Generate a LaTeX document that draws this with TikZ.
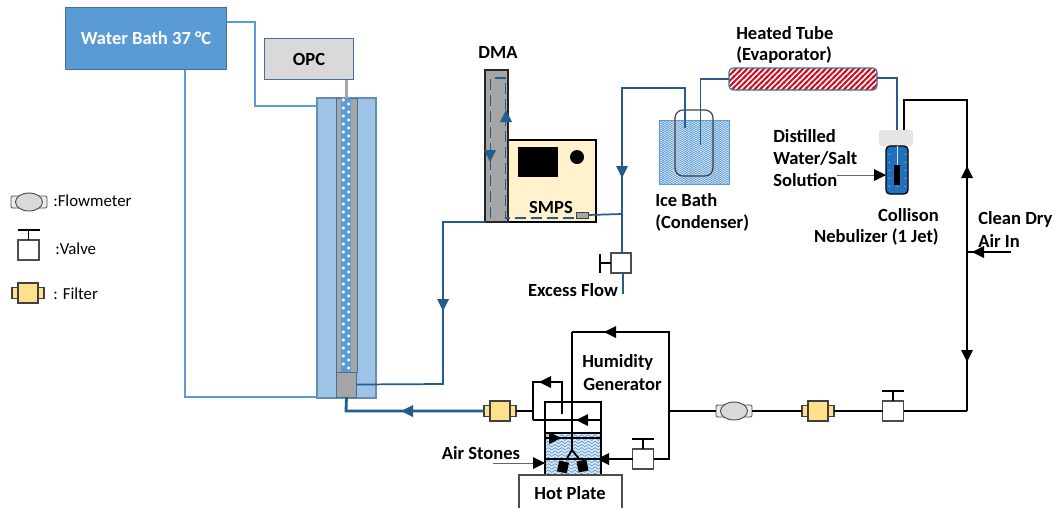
\documentclass[tikz,border=0pt]{standalone}
\usepackage{fontspec}
\setmainfont{Carlito}
\usetikzlibrary{patterns,shapes.geometric}
\pgfdeclarepatternformonly{bigwaves}{\pgfpoint{-1pt}{-1pt}}{\pgfpoint{6pt}{3.4pt}}{\pgfpoint{5pt}{2.4pt}}{
  \pgfsetlinewidth{0.55pt}
  \pgfpathmoveto{\pgfpoint{0pt}{1.2pt}}
  \pgfpathcurveto{\pgfpoint{1.2pt}{2.4pt}}{\pgfpoint{1.3pt}{2.4pt}}{\pgfpoint{2.5pt}{1.2pt}}
  \pgfpathcurveto{\pgfpoint{3.7pt}{0pt}}{\pgfpoint{3.8pt}{0pt}}{\pgfpoint{5pt}{1.2pt}}
  \pgfusepath{stroke}}
\pgfdeclarepatternformonly{finewaves}{\pgfpoint{-1pt}{-1pt}}{\pgfpoint{4pt}{3pt}}{\pgfpoint{2.6pt}{1.5pt}}{
  \pgfsetlinewidth{0.45pt}
  \pgfpathmoveto{\pgfpoint{0pt}{.75pt}}
  \pgfpathcurveto{\pgfpoint{.6pt}{1.6pt}}{\pgfpoint{.7pt}{1.6pt}}{\pgfpoint{1.3pt}{.75pt}}
  \pgfpathcurveto{\pgfpoint{1.9pt}{0pt}}{\pgfpoint{2pt}{0pt}}{\pgfpoint{2.6pt}{.75pt}}
  \pgfusepath{stroke}}
\pgfdeclarepatternformonly{heatlines}{\pgfpoint{-1pt}{-1pt}}{\pgfpoint{5.2pt}{5.2pt}}{\pgfpoint{4.2pt}{4.2pt}}{
  \pgfsetlinewidth{1.45pt}
  \pgfpathmoveto{\pgfpoint{-1pt}{-1pt}}
  \pgfpathlineto{\pgfpoint{5.2pt}{5.2pt}}
  \pgfusepath{stroke}}
\pgfdeclarepatternformonly{sprinkle}{\pgfpoint{-1pt}{-1pt}}{\pgfpoint{7pt}{7pt}}{\pgfpoint{6pt}{6pt}}{
  \pgfpathcircle{\pgfpoint{1pt}{1pt}}{.35pt}
  \pgfusepath{fill}}
\definecolor{bathblue}{HTML}{5B9BD5}
\definecolor{bathedge}{HTML}{41719C}
\definecolor{jacket}{HTML}{9DC3E6}
\definecolor{pipeblue}{HTML}{265B8C}
\definecolor{greyfill}{HTML}{A6A6A6}
\definecolor{filteryellow}{HTML}{FFE08C}
\definecolor{smpsfill}{HTML}{FFF2CC}
\definecolor{heatred}{HTML}{D01020}
\definecolor{nebblue}{HTML}{2070BC}
\newcommand\tipL[3][black]{\fill[#1] (#2-6,#3)--(#2+6,#3-6)--(#2+6,#3+6)--cycle;}
\newcommand\tipR[3][black]{\fill[#1] (#2+6,#3)--(#2-6,#3-6)--(#2-6,#3+6)--cycle;}
\newcommand\tipU[3][black]{\fill[#1] (#2,#3-6)--(#2-6,#3+6)--(#2+6,#3+6)--cycle;}
\newcommand\tipD[3][black]{\fill[#1] (#2,#3+6)--(#2-6,#3-6)--(#2+6,#3-6)--cycle;}
\tikzset{
  box/.style n args={2}{minimum width=#1*0.75pt,minimum height=#2*0.75pt,inner sep=0pt,outer sep=0pt},
  lbl/.style={font=\fontsize{13.9}{16}\selectfont\bfseries,inner sep=0pt,align=left},
  legend/.style={font=\fontsize{12.6}{15}\selectfont,inner sep=0pt},
  waterline/.style={draw=bathblue,line width=1.5pt,line join=miter},
  sample/.style={draw=pipeblue,line width=1.3pt},
  samplethick/.style={draw=pipeblue,line width=2.1pt},
  air/.style={draw=black,line width=1.4pt},
  thin arrow/.style={draw=black!60,line width=.7pt},
  filterpic/.pic={
    \node[box={32}{11},draw=black!75,fill=filteryellow,line width=.8pt] (nub) at (0,0) {};
    \node[box={20}{20},draw=black!75,fill=filteryellow,line width=1pt] (body) at (0,0) {};
    \coordinate (w) at (-16,0); \coordinate (e) at (16,0);},
  valvepic/.pic={
    \node[box={21}{20},draw=black!70,fill=white,line width=.9pt] (body) at (0,0) {};
    \draw[air,line width=1.1pt] (body.north) -- ++(0,-10) coordinate (stem);
    \draw[black,line width=1.6pt] (-11,-20) -- (11,-20);
    \coordinate (w) at (-10.5,0); \coordinate (e) at (10.5,0);},
  sidevalvepic/.pic={
    \node[box={20}{20},draw=black!70,fill=white,line width=.9pt] (body) at (0,0) {};
    \draw[air,line width=1.1pt] (body.west) -- ++(-11,0) coordinate (stem);
    \draw[black,line width=1.6pt] (-21,-9) -- (-21,10);},
  meterpic/.pic={
    \draw[black!70,fill=black!8,line width=.7pt,rounded corners=1pt] (-18,-6) rectangle (-9,6);
    \draw[black!70,fill=black!8,line width=.7pt,rounded corners=1pt] (9,-6) rectangle (18,6);
    \node[ellipse,box={27}{18},draw=black!70,fill=black!15,line width=.7pt] (body) at (0,0) {};
    \coordinate (w) at (-18,0); \coordinate (e) at (18,0);}
}
\begin{document}
\begin{tikzpicture}[x=0.75pt,y=-0.75pt]
\useasboundingbox (0,0) rectangle (1057,508);
% ---- water bath loop
\node[box={161}{62},draw=bathedge,fill=bathblue,line width=.8pt,text=white,lbl] (bath) at (146,38.5) {Water Bath 37 °C};
\node[box={89}{41},draw=bathedge,fill=black!15,line width=.8pt,lbl] (opc) at (309,59) {OPC};
\node[box={59}{300},draw=bathedge!80,fill=jacket,line width=.8pt] (jacket) at (346.5,248) {};
\coordinate (bathE) at (bath.east |- 0,22);
\coordinate (wtop) at (255,22);
\coordinate (wtop2) at (255,106);
\coordinate (jackW) at (jacket.west |- 0,106);
\draw[waterline] (bathE) -- (wtop) -- (wtop2) -- (jackW);
\coordinate (bathS) at (185,69.5);
\coordinate (wbot) at (185,397);
\coordinate (jackSW) at (jacket.west |- 0,397);
\draw[waterline] (bathS) -- (wbot) -- (jackSW);
% ---- flow tube
\node[box={21}{274},draw=bathedge,fill=greyfill,line width=.7pt] (tube) at (346.5,235) {};
\node[box={10}{274},fill=bathblue] (core) at (346,235) {};
\foreach \k in {0,...,67}{
  \fill[white] ({343.4+mod(\k,2)*5.2},{100+\k*4}) circle[radius=1.7];
}
\node[box={20}{25},draw=bathedge,fill=greyfill,line width=.7pt] (outbox) at (346.5,384.5) {};
\draw[draw=greyfill,line width=2pt] (tube.north |- opc.south) -- (tube.north);
% ---- DMA + SMPS
\node[box={88}{82},draw=black,fill=smpsfill,line width=.9pt] (smps) at (552,181) {};
\node[box={23}{152},draw=black!85,fill=greyfill,line width=.9pt] (dma) at (496.5,146) {};
\node[box={40}{30},fill=black] (screen) at (538,162) {};
\node[circle,fill=black,minimum size=14*0.75pt,inner sep=0pt] (knob) at (577,157) {};
\node[lbl] (smpslbl) at (551,207.5) {SMPS};
\node[lbl] (dmalbl) at (498,52) {DMA};
\node[box={12}{6},draw=black!75,fill=greyfill,line width=.6pt] (port) at (582,215) {};
\coordinate (dl1) at (490.5,218);
\coordinate (dl2) at (490.5,78);
\coordinate (dl3) at (505.5,78);
\coordinate (dl4) at (505.5,218);
\coordinate (dl5) at (port.west |- 0,218);
\draw[sample,dash pattern=on 8.5pt off 3.5pt] (dl1) -- (dl2) -- (dl3) -- (dl4) -- (dl5);
\tipD[pipeblue]{490}{156}
\tipU[pipeblue]{506}{116}
% ---- sample out of column to DMA
\coordinate (c1) at (443,384);
\coordinate (c2) at (443,222);
\draw[sample] (outbox.east) -- (c1) -- (c2) -- (dma.south west);
\tipD[pipeblue]{443}{305}
% ---- filter + outlet
\pic (f1) at (500,411) {filterpic};
\coordinate (o1) at (346,411);
\draw[samplethick] (outbox.south) -- (o1) -- (f1w);
\tipL[pipeblue]{407}{411}
% ---- condenser line
\node[box={70}{64},draw=bathblue,preaction={fill=jacket!30},pattern=finewaves,pattern color=bathblue,line width=.7pt] (ice) at (694,152) {};
\node[box={38}{66},draw=black!75,rounded corners=6pt,line width=.9pt] (flask) at (694,143) {};
\node[box={148}{22},draw=bathedge,rounded corners=3pt,pattern=heatlines,pattern color=heatred,line width=.8pt] (heater) at (803,79) {};
\coordinate (e1) at (700.5,79);
\coordinate (e2) at (700.5,145);
\draw[sample] (heater.west) -- (e1) -- (e2);
\coordinate (g1) at (685,128);
\coordinate (g2) at (685,88);
\coordinate (g3) at (622,88);
\coordinate (g4) at (622,214);
\pic (v3) at (621,263) {sidevalvepic};
\draw[sample] (g1) -- (g2) -- (g3) -- (g4) -- (v3body.north -| g4);
\draw[sample] (g4) -- (port.east);
\tipD[pipeblue]{622}{172}
\coordinate (xf) at (623,294);
\draw[sample] (v3body.south -| xf) -- (xf);
% ---- nebulizer
\node[box={34}{16},fill=black!10,rounded corners=2pt] (cap) at (896,138) {};
\node[box={22}{48},draw=black,fill=nebblue,rounded corners=3pt,line width=1pt] (neb) at (897,170) {};
\fill[pattern=sprinkle,pattern color=white] (887,148) rectangle (907,193);
\node[box={6}{20},fill=black] (jet) at (897,175) {};
\draw[white!80!nebblue,line width=.5pt] (neb.north) -- (jet.north);
\coordinate (n1) at (897,78);
\draw[sample] (heater.east |- n1) -- (n1) -- (cap.north -| n1);
\coordinate (a1) at (904,100);
\coordinate (a2) at (967,100);
\coordinate (a3) at (967,411);
\draw[air] (cap.north -| a1) -- (a1) -- (a2) -- (a3);
\tipU{967}{172}
\tipD{967}{356}
\coordinate (in0) at (1011,252);
\coordinate (in1) at (967,252);
\draw[air] (in0) -- (in1);
\tipL{978}{252}
\draw[thin arrow] (837,175) -- (neb.west |- 0,175);
\tipR{880}{175}
% ---- main air line
\pic (v2) at (893,411) {valvepic};
\pic (f2) at (818,411) {filterpic};
\pic (fm) at (734,411) {meterpic};
\pic (v1) at (643,459) {valvepic};
\coordinate (b1) at (669,411);
\coordinate (b2) at (669,459);
\coordinate (b3) at (669,332);
\coordinate (b4) at (572,332);
\coordinate (b5) at (572,450);
\draw[air] (a3) -- (v2e);
\draw[air] (v2w) -- (f2e);
\draw[air] (f2w) -- (fme);
\draw[air] (fmw) -- (b1);
\draw[air] (v1e) -- (b2) -- (b3) -- (b4);
\tipL{610}{332}
% ---- humidity generator
\node[box={56}{41},preaction={fill=jacket!35},pattern=bigwaves,pattern color=bathblue] (water) at (573,453.5) {};
\coordinate (hnw) at (545,402);
\coordinate (hne) at (601,402);
\coordinate (hsw) at (545,474);
\coordinate (hse) at (601,474);
\draw[black,line width=1.1pt] (hsw) -- (hnw) -- (hne) -- (hse);
\draw[black,line width=1pt] (545,433) -- (601,433);
\draw[air] (545,438) -- (601,438);
\draw[air] (545,459) -- (601,459);
\draw[air] (b4) -- (b5);
\draw[air] (b5) -- (566,460);
\draw[air] (b5) -- (580,460);
\node[box={10}{11},fill=black,rotate=-12] (st1) at (563,467) {};
\node[box={10}{11},fill=black,rotate=12] (st2) at (582.5,466) {};
\draw[air] (601,459) -- (v1w);
\tipL{603}{459}
\tipR{555}{438}
\coordinate (d1) at (533,411);
\coordinate (d2) at (533,382);
\coordinate (d3) at (562,382);
\coordinate (d4) at (562,414);
\coordinate (d5) at (533,420);
\coordinate (d6) at (601,420);
\draw[air] (f1e) -- (d1);
\draw[air] (d5) -- (d2) -- (d3) -- (d4);
\draw[air] (d5) -- (d6);
\tipL{545}{382}
\tipL{582}{420}
\coordinate (st0) at (493,463);
\draw[thin arrow] (st0) -- (hsw |- st0);
\tipR{539}{463}
% ---- hot plate
\coordinate (hp1) at (519,508);
\coordinate (hp2) at (519,475);
\coordinate (hp3) at (622,475);
\coordinate (hp4) at (622,508);
\draw[black!70,line width=1.2pt] (hp1) -- (hp2) -- (hp3) -- (hp4);
\node[lbl] (hplbl) at (570,493) {Hot Plate};
% ---- labels
\node[lbl,anchor=west] (l1) at (736,33) {Heated Tube};
\node[lbl,anchor=west] (l2) at (736,55) {(Evaporator)};
\node[lbl,anchor=west] (l3) at (655,200) {Ice Bath};
\node[lbl,anchor=west] (l4) at (655,223) {(Condenser)};
\node[lbl] (l5) at (573,290) {Excess Flow};
\node[lbl,anchor=west] (l6) at (773,136) {Distilled};
\node[lbl,anchor=west] (l7) at (773,158) {Water/Salt};
\node[lbl,anchor=west] (l8) at (773,180) {Solution};
\node[lbl,anchor=east] (l9) at (939,215) {Collison};
\node[lbl,anchor=east] (l10) at (939,237) {Nebulizer (1 Jet)};
\node[lbl,anchor=west] (l11) at (978,219) {Clean Dry};
\node[lbl,anchor=west] (l12) at (978,241) {Air In};
\node[lbl,anchor=west] (l13) at (582,362) {Humidity};
\node[lbl,anchor=west] (l14) at (583,384) {Generator};
\node[lbl] (l15) at (481,453) {Air Stones};
% ---- legend
\pic (lf) at (29,202) {meterpic};
\node[legend,anchor=west] (t1) at (53,201) {:Flowmeter};
\pic (lv) at (28.5,250) {valvepic};
\node[legend,anchor=west] (t2) at (55,249) {:Valve};
\pic (lfi) at (28,293) {filterpic};
\node[legend,anchor=west] (t3) at (53,294) {: Filter};
\end{tikzpicture}
\end{document}
